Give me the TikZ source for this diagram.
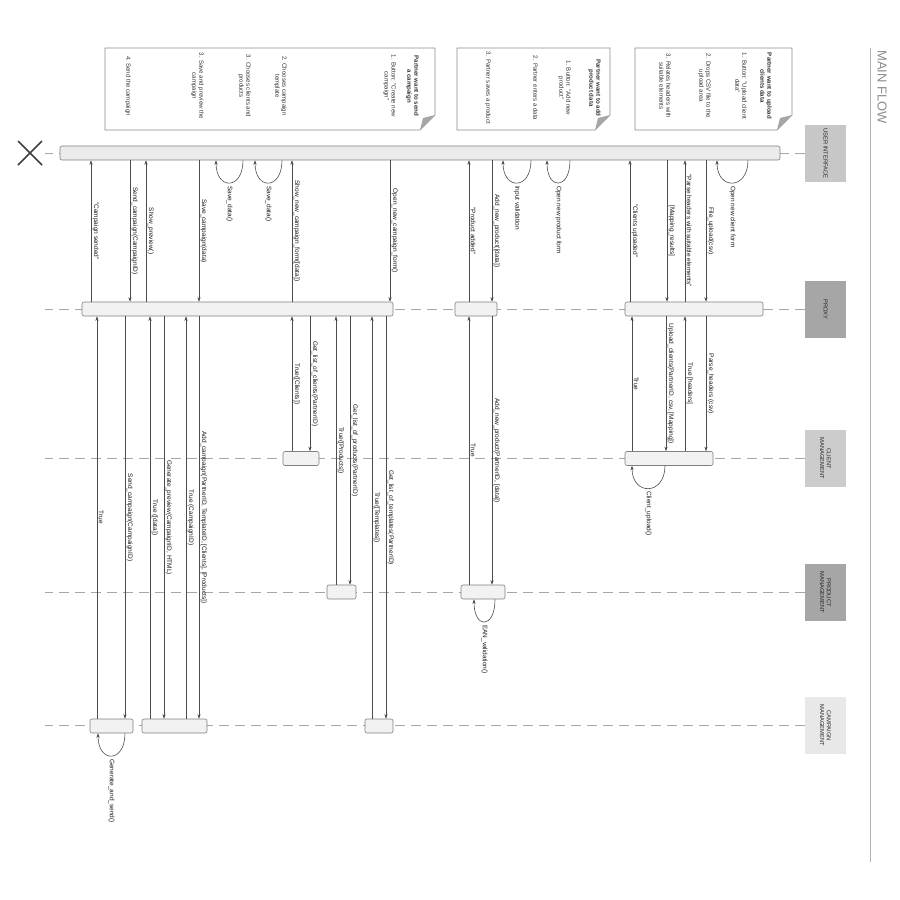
\documentclass[tikz,border=0pt]{standalone}
\usepackage{fontspec}
\setmainfont{Liberation Sans}
\setsansfont{Liberation Sans}
\usetikzlibrary{arrows.meta}

\tikzset{
  bar/.style={draw=black!50, fill=black!5, rounded corners=2pt, minimum height=14, inner sep=0, line width=0.6pt},
  msg/.style={draw=black!70, line width=0.6pt, -{Stealth[length=4.5pt,width=3.2pt]}},
  lbl/.style={rotate=-90, anchor=south, inner sep=1.5pt, font=\fontsize{6.5}{7}\selectfont, text=black!90},
  loopl/.style={rotate=-90, anchor=west, inner sep=3pt, font=\fontsize{6.5}{7}\selectfont, text=black!90},
  life/.style={draw=black!35, dash pattern=on 10pt off 6pt, line width=0.7pt},
  head/.style={minimum width=41, minimum height=57, inner sep=0},
  htext/.style={rotate=-90, align=center, font=\fontsize{5.8}{6.6}\selectfont, text=black!85},
  notebox/.style={draw=black!45, fill=white, line width=0.7pt},
  ntext/.style={rotate=-90, anchor=north, align=center, inner sep=0, font=\fontsize{6.1}{7}\selectfont, text=black!80},
  ntitle/.style={ntext, font=\fontsize{6.1}{7}\selectfont\bfseries},
}

\begin{document}
\begin{tikzpicture}[x=1pt, y=-1pt]
\useasboundingbox (0,0) rectangle (900,900);

% headers
\node[head, fill=black!22, label={[htext]center:{USER INTERFACE}}] (hui) at (825.5,153.5) {};
\node[head, fill=black!35, label={[htext]center:{PROXY}}] (hpx) at (825.5,309.5) {};
\node[head, fill=black!20, label={[htext]center:{CLIENT\\MANAGEMENT}}] (hcl) at (825.5,458.5) {};
\node[head, fill=black!35, label={[htext]center:{PRODUCT\\MANAGEMENT}}] (hpr) at (825.5,592.5) {};
\node[head, fill=black!9, label={[htext]center:{CAMPAIGN\\MANAGEMENT}}] (hca) at (825.5,725.5) {};

\foreach \h in {hui, hpx, hcl, hpr, hca}
{\draw[life] (\h.west) -- (\h.west -| 45,0);}

% title
\node[rotate=-90, anchor=north west, inner sep=0, font=\fontsize{13}{14}\selectfont, text=black!45] (mf) at (887,50) {MAIN FLOW};
\coordinate (ft) at (870,48);
\coordinate (fb) at (870,862);
\draw[black!30, line width=0.6pt] (ft) -- (fb);

% end mark
\draw[black!75, line width=1.6pt] (18,141) -- (42,165) (18,165) -- (42,141);

% activation bars
\node[bar, fill=black!8, minimum width=720] (ui) at (420,153) {};
\node[bar, minimum width=311] (pa) at (237.5,309) {};
\node[bar, minimum width=42] (pb) at (476,309) {};
\node[bar, minimum width=138] (pc) at (694,309) {};
\node[bar, minimum width=36] (ca) at (301,458.5) {};
\node[bar, minimum width=88] (cb) at (669,458.5) {};
\node[bar, minimum width=29] (da) at (341.5,592) {};
\node[bar, minimum width=44] (db) at (483,592) {};
\node[bar, minimum width=43] (ea) at (111.5,726) {};
\node[bar, minimum width=65] (eb) at (174.5,726) {};
\node[bar, minimum width=28] (ec) at (379,726) {};

% notes
\draw[notebox] (105,48) -- (435,48) -- (435,115) -- (420,130) -- (105,130) -- cycle;
\fill[black!35] (435,115) -- (420,130) -- (423,118) -- cycle;
\draw[notebox] (457,48) -- (610,48) -- (610,115) -- (595,130) -- (457,130) -- cycle;
\fill[black!35] (610,115) -- (595,130) -- (598,118) -- cycle;
\draw[notebox] (635,48) -- (792,48) -- (792,115) -- (777,130) -- (635,130) -- cycle;
\fill[black!35] (792,115) -- (777,130) -- (780,118) -- cycle;

\node[ntitle] (n1a) at (419,86) {Partner want to send\\a campaign};
\node[ntext] (n1b) at (396,86) {1. Button: "Create new\\campaign"};
\node[ntext] (n1c) at (287,86) {2. Chooses campaign\\template};
\node[ntext] (n1d) at (251,86) {3. Chooses clients and\\products};
\node[ntext] (n1e) at (204,86) {3. Save and preview the\\campaign};
\node[ntext] (n1f) at (131,86) {4. Send the campaign};

\node[ntitle] (n2a) at (601,88) {Partner want to add\\product data};
\node[ntext] (n2b) at (571,88) {1. Button: "Add new\\product"};
\node[ntext] (n2c) at (538,88) {2. Partner enters a data};
\node[ntext] (n2d) at (491,88) {3. Partner saves a product};

\node[ntitle] (n3a) at (772,86) {Partner want to upload\\clients data};
\node[ntext] (n3b) at (747,86) {1. Button: "Upload client\\data"};
\node[ntext] (n3c) at (711,86) {2. Drops CSV file to the\\upload area};
\node[ntext] (n3d) at (671,86) {3. Relates headers with\\suitable elements};

% calls (down)
\foreach \x/\p/\q/\t in {130/ui/pa/Send\_campaign(CampaignID), 199/ui/pa/Save\_campaign(data),
  390/ui/pa/Open\_new\_campaign\_form(), 492/ui/pb/Add\_new\_product([data]),
  667/ui/pc/[Mapping\_results], 706/ui/pc/File\_upload(csv),
  310/pa/ca/Get\_list\_of\_clients(PartnerID), 350/pa/da/Get\_list\_of\_products(PartnerID),
  386/pa/ec/Get\_list\_of\_templates(PartnerID), 492/pb/db/{Add\_new\_product(PartnerID, [data])},
  666/pc/cb/{Upload\_clients(PartnerID, csv, [Mapping])}, 706/pc/cb/Parse\_headers (csv),
  125/pa/ea/Send\_campaign(CampaignID), 164/pa/eb/{Generate\_preview(CampaignID, HTML)},
  199/pa/eb/{Add\_campaign(PartnerID, TemplateID, [Clients], [Products])}}
{\draw[msg] (\p.south -| \x,0) -- node[lbl] {\t} (\q.north -| \x,0);}

% replies (up)
\foreach \x/\p/\q/\t in {91/ui/pa/"Campaign sended", 146/ui/pa/Show\_preview(),
  292/ui/pa/Show\_new\_campaign\_form([data]), 469/ui/pb/"Product added",
  630/ui/pc/"Clients uploaded", 685/ui/pc/"Parse headers with suitable elements",
  292/pa/ca/True([Clients]), 336/pa/da/True([Products]), 372/pa/ec/True([Templates]),
  469/pb/db/True, 632/pc/cb/True, 685/pc/cb/True [headers],
  97/pa/ea/True, 150/pa/eb/True ([data]), 186/pa/eb/True (CampaignID)}
{\draw[msg] (\q.north -| \x,0) -- node[lbl] {\t} (\p.south -| \x,0);}

% self calls
\foreach \a/\b/\p/\t in {216/243/ui/Save\_data(), 255/282/ui/Save\_data(),
  503/531/ui/Input validation, 547/570/ui/Open new product form,
  717/748/ui/Open new client form, 632/665/cb/Client\_upload(),
  474/495/db/EAN\_validation(), 98/125/ea/Generate\_and\_send()}
{\draw[msg] (\p.south -| \b,0) .. controls +(0,30) and +(0,30) .. (\p.south -| \a,0) node[pos=0.5, loopl] {\t};}

\end{tikzpicture}
\end{document}
